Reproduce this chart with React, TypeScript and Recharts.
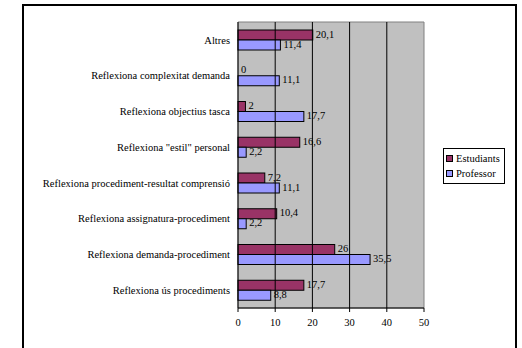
import React from 'react';
import {
  BarChart,
  Bar,
  XAxis,
  YAxis,
  Legend,
  ReferenceArea,
  ReferenceLine,
} from 'recharts';

// Categories, top to bottom
const categories = [
  'Altres',
  'Reflexiona complexitat demanda',
  'Reflexiona objectius tasca',
  'Reflexiona "estil" personal',
  'Reflexiona procediment-resultat comprensió',
  'Reflexiona assignatura-procediment',
  'Reflexiona demanda-procediment',
  'Reflexiona ús procediments',
];

const estudiants = [20.1, 0, 2, 16.6, 7.2, 10.4, 26, 17.7];
const professor = [11.4, 11.1, 17.7, 2.2, 11.1, 2.2, 35.5, 8.8];

const xTicks = [0, 10, 20, 30, 40, 50];
const gridValues = [10, 20, 30, 40];

const seriesNames = ['Estudiants', 'Professor'];
const seriesColors = ['#993366', '#9999FF'];

const data = categories.map((name, i) => ({
  name,
  Estudiants: estudiants[i],
  Professor: professor[i],
}));

// Boundary tick positions between categories (0..n)
const edgeTicks = categories.map((_, i) => i).concat(categories.length);

const FONT = "'Liberation Serif', Tinos, 'Times New Roman', Times, serif";

const formatValue = (v: any) => String(v).replace('.', ',');

const CategoryTick = (props: any) => {
  const { x, y, payload } = props;
  return (
    <text
      x={x}
      y={y}
      dy="0.35em"
      textAnchor="end"
      fontFamily={FONT}
      fontSize={10.5}
      fill="#000"
    >
      {payload.value}
    </text>
  );
};

// Bar rectangle with its value written just past the bar end
const makeLabelledBar = (key: string) => (props: any) => {
  const { x, y, width, height, fill, payload } = props;
  const bx = Number(x);
  const by = Number(y);
  const bw = Math.max(0, Number(width) || 0);
  const bh = Number(height);
  const value = payload ? payload[key] : props.value;
  return (
    <g>
      {bw > 0 && (
        <rect x={bx} y={by} width={bw} height={bh} fill={fill} stroke="#000" strokeWidth={1} />
      )}
      <text
        x={bx + bw + 3}
        y={by + bh / 2 - 1}
        dy="0.35em"
        textAnchor="start"
        fontFamily={FONT}
        fontSize={10.5}
        fill="#000"
      >
        {formatValue(value)}
      </text>
    </g>
  );
};

const LegendBox = () => (
  <div
    style={{
      border: '1px solid #000',
      background: '#fff',
      padding: '2px 4px 2px 2px',
      fontFamily: FONT,
      fontSize: 10.5,
      lineHeight: '15px',
      color: '#000',
    }}
  >
    {seriesNames.map((n, i) => (
      <div key={n} style={{ display: 'flex', alignItems: 'center', whiteSpace: 'nowrap' }}>
        <span
          style={{
            display: 'inline-block',
            width: 5,
            height: 5,
            background: seriesColors[i],
            border: '1px solid #000',
            marginRight: 3,
          }}
        />
        {n}
      </div>
    ))}
  </div>
);

export default function App() {
  return (
    <div
      style={{
        position: 'absolute',
        left: 0,
        top: 0,
        width: 522,
        height: 348,
        overflow: 'hidden',
        background: '#fff',
        fontFamily: FONT,
      }}
    >
      <div
        style={{
          position: 'absolute',
          left: 22,
          top: 4,
          width: 495,
          height: 400,
          border: '2px solid #000',
          boxSizing: 'border-box',
        }}
      />
      <div style={{ position: 'absolute', left: 0, top: 0 }}>
        <BarChart
          width={522}
          height={348}
          data={data}
          layout="vertical"
          margin={{ top: 22, right: 98, bottom: 10, left: 0 }}
          barSize={10}
          barGap={0}
          style={{ fontFamily: FONT }}
        >
          <XAxis
            type="number"
            domain={[0, 50]}
            ticks={xTicks}
            height={30}
            tick={{ fill: '#000', fontSize: 10.5, fontFamily: FONT }}
            tickSize={4}
            tickMargin={7}
            axisLine={{ stroke: '#000' }}
            tickLine={{ stroke: '#000' }}
          />
          <YAxis
            yAxisId="edges"
            type="number"
            domain={[0, categories.length]}
            ticks={edgeTicks}
            width={0}
            tickFormatter={() => ''}
            tickSize={3}
            axisLine={false}
            tickLine={{ stroke: '#000' }}
          />
          <YAxis
            yAxisId="cat"
            type="category"
            dataKey="name"
            width={238}
            interval={0}
            tick={<CategoryTick />}
            tickSize={6}
            tickMargin={2}
            tickLine={false}
            axisLine={{ stroke: '#000' }}
          />
          <ReferenceArea
            yAxisId="cat"
            x1={0}
            x2={50}
            fill="#C0C0C0"
            fillOpacity={1}
            stroke="#808080"
            strokeWidth={1}
          />
          {gridValues.map((v) => (
            <ReferenceLine key={v} yAxisId="cat" x={v} stroke="#000" strokeWidth={1} />
          ))}
          <Legend
            layout="horizontal"
            verticalAlign="middle"
            align="center"
            content={<LegendBox />}
            wrapperStyle={{ left: 443, top: 148, width: 'auto' }}
          />
          {seriesNames.map((n, i) => (
            <Bar
              key={n}
              yAxisId="cat"
              dataKey={n}
              fill={seriesColors[i]}
              stroke="#000"
              strokeWidth={1}
              shape={makeLabelledBar(n)}
              isAnimationActive={false}
            />
          ))}
        </BarChart>
      </div>
    </div>
  );
}
